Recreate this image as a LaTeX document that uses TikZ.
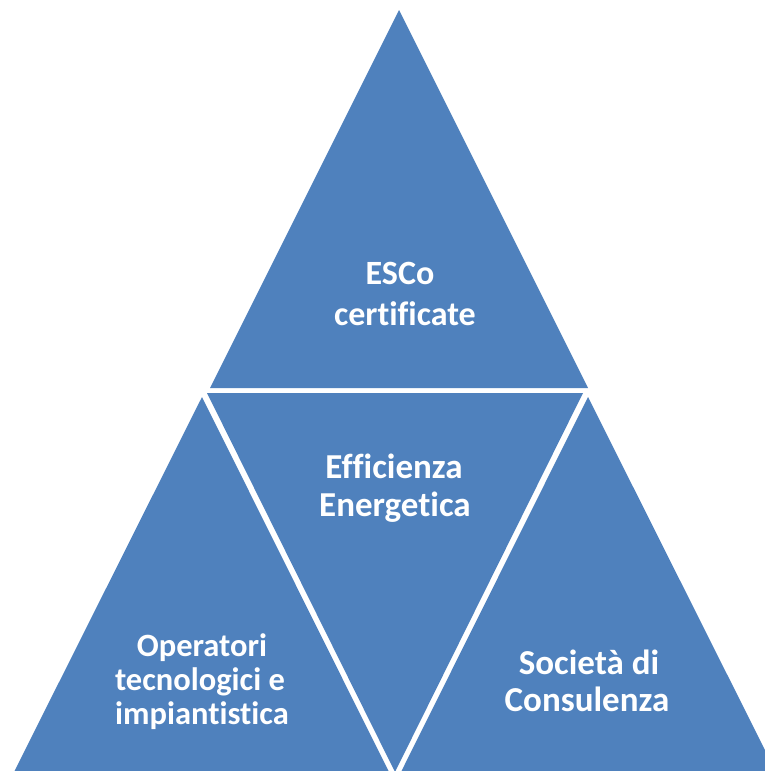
\documentclass[tikz,border=0pt]{standalone}
\usepackage{fontspec}
\setmainfont{Carlito}[RawFeature=-liga]
\definecolor{segblue}{HTML}{4F81BD}
\begin{document}
\begin{tikzpicture}[x=1pt,y=-1pt,
  seg/.style={fill=segblue,draw=none},
  lbl/.style={text=white,font=\bfseries\fontsize{35}{40}\selectfont,anchor=base,inner sep=0pt},
  lbltop/.style={lbl,font=\bfseries\fontsize{34}{40}\selectfont},
  lblleft/.style={lbl,font=\bfseries\fontsize{32.5}{40}\selectfont}]
\useasboundingbox (0,0) rectangle (765,771);
\fill[white] (0,0) rectangle (765,771);
% segments
\coordinate (tA) at (399,10);
\coordinate (tL) at (210,388);
\coordinate (tR) at (588,388);
\coordinate (cL) at (207,393);
\coordinate (cR) at (583,393);
\coordinate (cB) at (395,772);
\coordinate (lA) at (202,397);
\coordinate (lL) at (14,772);
\coordinate (lR) at (389,772);
\coordinate (rA) at (588,397);
\coordinate (rL) at (401,772);
\coordinate (rR) at (776,772);
\path[seg] (tA) -- (tL) -- (tR) -- cycle;
\path[seg] (cL) -- (cR) -- (cB) -- cycle;
\path[seg] (lA) -- (lL) -- (lR) -- cycle;
\path[seg] (rA) -- (rL) -- (rR) -- cycle;
% labels
\node[lbltop] (t1) at (400,284) {ESCo};
\node[lbltop] (t2) at (405,325) {certificate};
\node[lbl] (c1) at (394,478) {Efficienza};
\node[lbl] (c2) at (395,516) {Energetica};
\node[lblleft] (l1) at (202,656) {Operatori};
\node[lblleft] (l2) at (200,690) {tecnologici e};
\node[lblleft] (l3) at (202,724) {impiantistica};
\node[lbl] (r1) at (589,674) {Società di};
\node[lbl] (r2) at (587,711) {Consulenza};
\end{tikzpicture}
\end{document}
